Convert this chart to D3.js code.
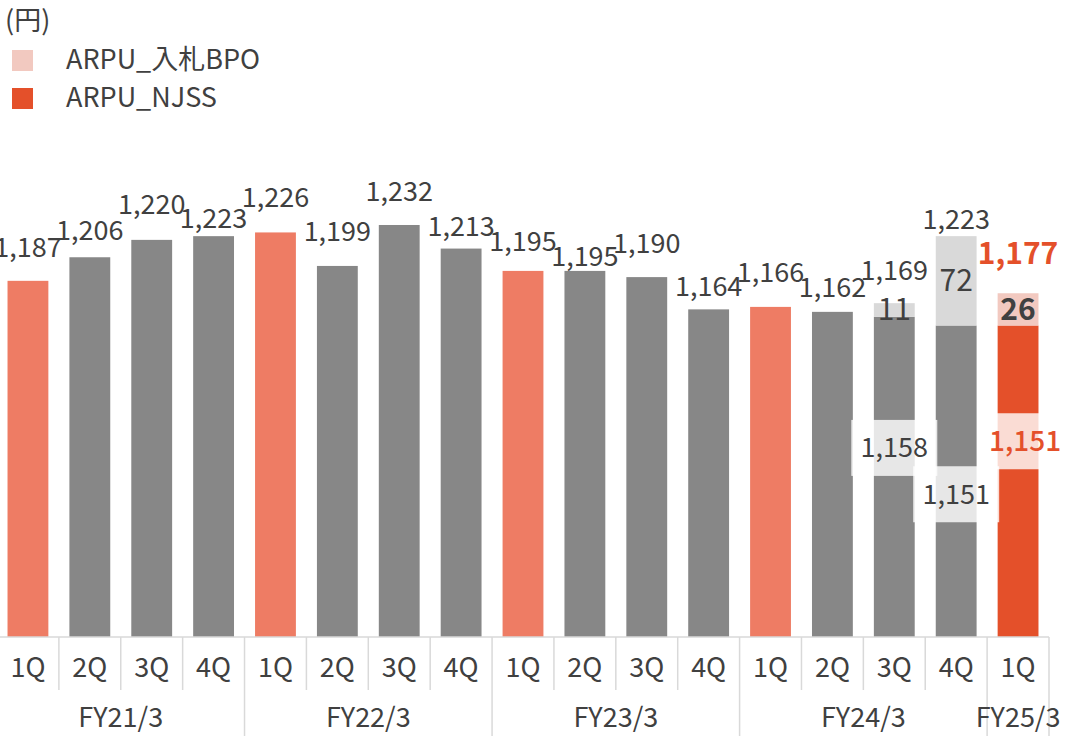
<!DOCTYPE html>
<html>
<head>
<meta charset="utf-8">
<script src="https://cdn.jsdelivr.net/npm/d3@7"></script>
<style>
  body { margin: 0; background: #fff; }
  svg { display: block; font-family: "Noto Sans CJK JP", "Noto Sans", sans-serif; }
</style>
</head>
<body>
<svg id="chart" width="1069" height="736"></svg>
<script>
// 四半期
var quarters = ['1Q','2Q','3Q','4Q','1Q','2Q','3Q','4Q','1Q','2Q','3Q','4Q','1Q','2Q','3Q','4Q','1Q'];
// 年度と四半期数
var years = ['FY21/3','FY22/3','FY23/3','FY24/3','FY25/3'];
var yearCounts = [4, 4, 4, 4, 1];
// ARPU_NJSS
var njss = [1187,1206,1220,1223,1226,1199,1232,1213,1195,1195,1190,1164,1166,1162,1158,1151,1151];
// ARPU_入札BPO
var bpo = [0,0,0,0,0,0,0,0,0,0,0,0,0,0,11,72,26];

// ラベル位置の調整（バー上端からの距離）
var labelLift = [33,27,35,18,35,34,33,22,29,14,34,23,34,24,33,17,40];
var innerShift = {14: -29, 15: 13, 16: -40};

var colSalmon = '#EE7C64', colGray = '#878787', colRed = '#E4502A',
    colPink = '#F2C9C0', colLight = '#D9D9D9', colText = '#404040';
var fs = 27;

var svg = d3.select('#chart');
var n = njss.length;
var x = d3.scaleBand().domain(d3.range(n)).range([-3, 1049]).paddingInner(0.34).paddingOuter(0.17);
var y = d3.scaleLinear().domain([900, 1300]).range([637, 637 - 400 * 1.241]);

function baseColor(i){
	if(i === n - 1) return colRed;
	return quarters[i] === '1Q' ? colSalmon : colGray;
}

// 凡例
svg.append('text').attr('x', 5).attr('y', 30).attr('font-size', fs).attr('fill', colText).text('(円)');
var legend = [{name:'ARPU_入札BPO', color: colPink}, {name:'ARPU_NJSS', color: colRed}];
legend.forEach(function(d, k){
	var cy = 60 + k * 38;
	svg.append('rect').attr('x', 12).attr('y', cy - 10).attr('width', 21).attr('height', 21).attr('fill', d.color);
	svg.append('text').attr('x', 66).attr('y', cy).attr('dy', '0.35em').attr('font-size', fs).attr('fill', colText).text(d.name);
});

// バー
var rows = njss.map(function(v, i){ return {i: i, njss: v, bpo: bpo[i]}; });

svg.selectAll('.base').data(rows).enter().append('rect')
	.attr('x', function(d){ return x(d.i); })
	.attr('y', function(d){ return y(d.njss); })
	.attr('width', x.bandwidth())
	.attr('height', function(d){ return y(900) - y(d.njss); })
	.attr('fill', function(d){ return baseColor(d.i); });

svg.selectAll('.top').data(rows.filter(function(d){ return d.bpo > 0; })).enter().append('rect')
	.attr('x', function(d){ return x(d.i); })
	.attr('y', function(d){ return y(d.njss + d.bpo); })
	.attr('width', x.bandwidth())
	.attr('height', function(d){ return y(d.njss) - y(d.njss + d.bpo); })
	.attr('fill', function(d){ return d.i === n - 1 ? colPink : colLight; });

var fmt = d3.format(',');

// 合計ラベル
rows.forEach(function(d){
	var total = d.njss + d.bpo;
	var last = d.i === n - 1;
	svg.append('text')
		.attr('x', x(d.i) + x.bandwidth() / 2)
		.attr('y', y(total) - labelLift[d.i])
		.attr('dy', '0.35em')
		.attr('text-anchor', 'middle')
		.attr('font-size', last ? 30 : fs)
		.attr('font-weight', last ? 700 : 400)
		.attr('fill', last ? colRed : colText)
		.text(fmt(total));
});

// 内訳ラベル
rows.forEach(function(d){
	if(!d.bpo) return;
	var last = d.i === n - 1;
	var cx = x(d.i) + x.bandwidth() / 2;
	svg.append('text')
		.attr('x', cx)
		.attr('y', (y(d.njss) + y(d.njss + d.bpo)) / 2)
		.attr('dy', '0.35em')
		.attr('text-anchor', 'middle')
		.attr('font-size', 30)
		.attr('font-weight', last ? 700 : 400)
		.attr('fill', colText)
		.text(d.bpo);
	var cy = (y(d.njss) + y(900)) / 2 + innerShift[d.i];
	var bx = cx + (last ? 7 : 0);
	svg.append('rect')
		.attr('x', bx - 43).attr('y', cy - 28)
		.attr('width', 86).attr('height', 56)
		.attr('fill', '#fff').attr('fill-opacity', 0.8);
	svg.append('text')
		.attr('x', bx)
		.attr('y', cy)
		.attr('dy', '0.35em')
		.attr('text-anchor', 'middle')
		.attr('font-size', last ? 28 : fs)
		.attr('font-weight', last ? 500 : 400)
		.attr('fill', last ? colRed : colText)
		.text(fmt(d.njss));
});

// 軸
var axisCol = '#D9D9D9';
svg.append('line').attr('x1', -3).attr('x2', 1049).attr('y1', 637).attr('y2', 637)
	.attr('stroke', axisCol).attr('stroke-width', 1.5);
var yearStarts = [0];
yearCounts.forEach(function(c, k){ yearStarts.push(yearStarts[k] + c); });
var step = x.step();
function edge(i){ return -3 + i * step; }
for(var i = 0; i <= n; i++){
	var isYear = yearStarts.indexOf(i) >= 0;
	svg.append('line')
		.attr('x1', edge(i)).attr('x2', edge(i))
		.attr('y1', 637).attr('y2', isYear ? 736 : 690)
		.attr('stroke', axisCol).attr('stroke-width', 1.5);
}
svg.selectAll('.ql').data(quarters).enter().append('text')
	.attr('x', function(d, i){ return edge(i) + step / 2; })
	.attr('y', 668)
	.attr('dy', '0.35em')
	.attr('text-anchor', 'middle')
	.attr('font-size', fs)
	.attr('fill', colText)
	.text(function(d){ return d; });
years.forEach(function(yr, k){
	svg.append('text')
		.attr('x', (edge(yearStarts[k]) + edge(yearStarts[k + 1])) / 2)
		.attr('y', 718)
		.attr('dy', '0.35em')
		.attr('text-anchor', 'middle')
		.attr('font-size', fs)
		.attr('fill', colText)
		.text(yr);
});
</script>
</body>
</html>
